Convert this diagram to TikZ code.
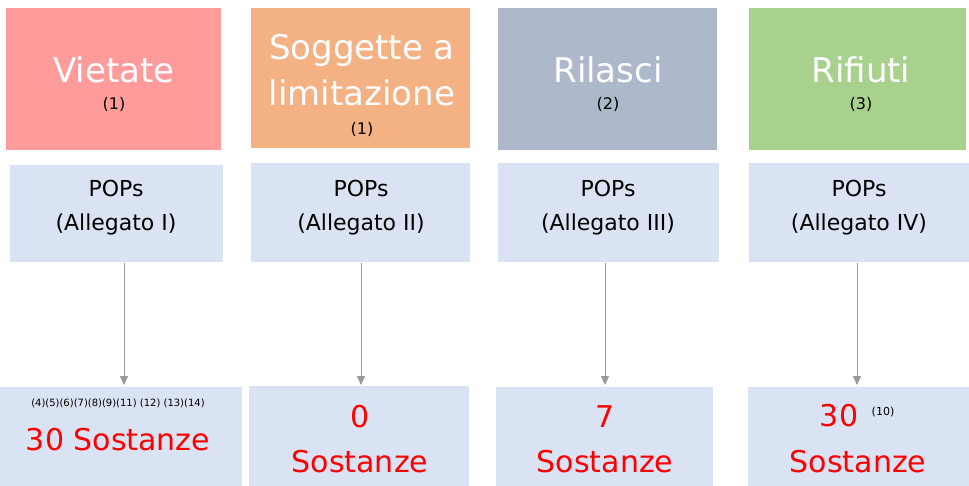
\documentclass[tikz,border=0pt]{standalone}
\usepackage{fontspec}
\setmainfont{DejaVu Sans}
\usetikzlibrary{arrows.meta}
\definecolor{cA}{HTML}{FF9B9B}
\definecolor{cB}{HTML}{F4B183}
\definecolor{cC}{HTML}{ADB9CA}
\definecolor{cD}{HTML}{A9D18E}
\definecolor{cM}{HTML}{DAE3F3}
\tikzset{
 box/.style={draw=none,inner sep=0pt,anchor=north west},
 ttl/.style={font=\fontsize{34}{46}\selectfont,text=white,align=center,inner sep=0pt},
 ref/.style={font=\fontsize{16}{17}\selectfont,inner sep=0pt},
 pops/.style={font=\fontsize{22}{34}\selectfont,align=center,inner sep=0pt},
 big/.style={font=\fontsize{30}{45}\selectfont,text=red,align=center,inner sep=0pt},
 arr/.style={draw=gray!80,line width=1pt,-{Triangle[length=9pt,width=8pt]}}
}
\begin{document}
\begin{tikzpicture}[x=1pt,y=-1pt]
\useasboundingbox (0,0) rectangle (969,486);
% top boxes
\node[box,fill=cA,minimum width=215,minimum height=142] (t1) at (6,8) {};
\node[box,fill=cB,minimum width=219,minimum height=140] (t2) at (251,8) {};
\node[box,fill=cC,minimum width=219,minimum height=142] (t3) at (498,8) {};
\node[box,fill=cD,minimum width=217,minimum height=142] (t4) at (749,8) {};
\node[ttl] (l1) at (114,70) {Vietate};
\node[ref] (r1) at (114,104) {(1)};
\node[ttl] (l2) at (362,70) {Soggette a\\limitazione};
\node[ref] (r2) at (362,129) {(1)};
\node[ttl] (l3) at (608,70) {Rilasci};
\node[ref] (r3) at (608,104) {(2)};
\node[ttl] (l4) at (861,70) {Rifiuti};
\node[ref] (r4) at (861,104) {(3)};
% middle boxes
\node[box,fill=cM,minimum width=213,minimum height=97] (m1) at (10,165) {};
\node[box,fill=cM,minimum width=219,minimum height=99] (m2) at (251,163) {};
\node[box,fill=cM,minimum width=221,minimum height=99] (m3) at (498,163) {};
\node[box,fill=cM,minimum width=220,minimum height=99] (m4) at (749,163) {};
\node[pops] (p1) at (116,208) {POPs\\(Allegato I)};
\node[pops] (p2) at (361,208) {POPs\\(Allegato II)};
\node[pops] (p3) at (608,208) {POPs\\(Allegato III)};
\node[pops] (p4) at (859,208) {POPs\\(Allegato IV)};
% bottom boxes
\node[box,fill=cM,minimum width=242,minimum height=99] (b1) at (0,387) {};
\node[box,fill=cM,minimum width=220,minimum height=100] (b2) at (249,386) {};
\node[box,fill=cM,minimum width=217,minimum height=99] (b3) at (496,387) {};
\node[box,fill=cM,minimum width=221,minimum height=99] (b4) at (748,387) {};
\node[inner sep=0pt,font=\fontsize{10}{11}\selectfont] (s1) at (118,403) {(4)(5)(6)(7)(8)(9)(11) (12) (13)(14)};
\node[big] (n1) at (118,440) {30 Sostanze};
\node[big] (n2) at (360,439) {0\\Sostanze};
\node[big] (n3) at (605,439) {7\\Sostanze};
\node[big] (n4a) at (839,416) {30};
\node[big] (n4b) at (858,462) {Sostanze};
\node[inner sep=0pt,font=\fontsize{11}{12}\selectfont] (s4) at (883,412) {(10)};
% arrows
\coordinate (a1) at (124,263); \coordinate (e1) at (124,385);
\coordinate (a2) at (361,263); \coordinate (e2) at (361,385);
\coordinate (a3) at (605,263); \coordinate (e3) at (605,385);
\coordinate (a4) at (857,263); \coordinate (e4) at (857,385);
\draw[arr] (a1) -- (e1);
\draw[arr] (a2) -- (e2);
\draw[arr] (a3) -- (e3);
\draw[arr] (a4) -- (e4);
\end{tikzpicture}
\end{document}
